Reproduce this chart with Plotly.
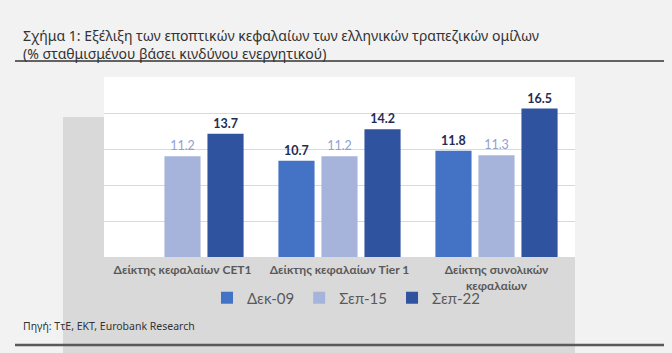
import plotly.graph_objects as go

categories = ["Δείκτης κεφαλαίων CET1", "Δείκτης κεφαλαίων Tier 1", "Δείκτης συνολικών<br>κεφαλαίων"]
series_names = ["Δεκ-09", "Σεπ-15", "Σεπ-22"]
dek09 = [None, 10.7, 11.8]
sep15 = [11.2, 11.2, 11.3]
sep22 = [13.7, 14.2, 16.5]

colors = ["#4472c4", "#a6b4dc", "#2f539f"]
label_colors = ["#1f2d55", "#8ea1cf", "#1f2d55"]
label_weights = ["bold", "normal", "bold"]

W, H = 672, 353
L, R, T, B = 104, 575, 77, 257  # plot area in px


def px_x(x):
    return (x - L) / (R - L)


def px_y(y):
    return (B - y) / (B - T)


fig = go.Figure()
for name, vals, c, lc, lw in zip(series_names, [dek09, sep15, sep22], colors, label_colors, label_weights):
    fig.add_trace(go.Bar(
        name=name, x=categories, y=vals,
        marker=dict(color=c, line=dict(width=0)),
        text=[None if v is None else f"{v:.1f}" for v in vals],
        textposition="outside",
        textfont=dict(family="Lato", size=12.5, color=lc, weight=lw),
        cliponaxis=False,
    ))

font_main = "Noto Sans"

fig.update_layout(
    width=W, height=H,
    margin=dict(l=L, r=W - R, t=T, b=H - B),
    paper_bgcolor="#f2f2f2",
    plot_bgcolor="rgba(0,0,0,0)",
    barmode="group",
    bargap=0.178,
    bargroupgap=0.16,
    showlegend=True,
    legend=dict(
        orientation="h", x=px_x(346), xanchor="center", y=px_y(298), yanchor="middle",
        font=dict(family="Lato", size=15, color="#595959"),
        bgcolor="rgba(0,0,0,0)", itemwidth=30, traceorder="normal",
    ),
    xaxis=dict(
        showgrid=False, showline=False, ticks="", ticklabelstandoff=4,
        tickfont=dict(family="Lato", size=12, color="#595959", weight="bold"),
    ),
    yaxis=dict(
        range=[0, 20], dtick=4, showticklabels=False, showgrid=True,
        gridcolor="#d9d9d9", gridwidth=1, zeroline=False, showline=False,
    ),
    shapes=[
        dict(type="rect", xref="paper", yref="paper", x0=px_x(63), x1=px_x(575), y0=px_y(353), y1=px_y(117),
             fillcolor="#d9d9d9", line=dict(width=0), layer="below"),
        dict(type="rect", xref="paper", yref="paper", x0=0, x1=1, y0=0, y1=1,
             fillcolor="#ffffff", line=dict(width=0), layer="below"),
        dict(type="line", xref="paper", yref="paper", x0=px_x(15), x1=px_x(664), y0=px_y(61), y1=px_y(61),
             line=dict(color="#333333", width=1.5)),
        dict(type="line", xref="paper", yref="paper", x0=px_x(15), x1=px_x(664), y0=px_y(345), y1=px_y(345),
             line=dict(color="#595959", width=2.5)),
    ],
    annotations=[
        dict(xref="paper", yref="paper", x=px_x(21), y=px_y(44), xanchor="left", yanchor="middle",
             align="left", showarrow=False,
             text="Σχήμα 1: Εξέλιξη των εποπτικών κεφαλαίων των ελληνικών τραπεζικών ομίλων<br>(% σταθμισμένου βάσει κινδύνου ενεργητικού)",
             font=dict(family=font_main, size=14, color="#333333")),
        dict(xref="paper", yref="paper", x=px_x(21), y=px_y(326), xanchor="left", yanchor="middle",
             showarrow=False, text="Πηγή: ΤτΕ, ΕΚΤ, Eurobank Research",
             font=dict(family=font_main, size=10.5, color="#333333")),
    ],
)

fig.write_html("out.html")
